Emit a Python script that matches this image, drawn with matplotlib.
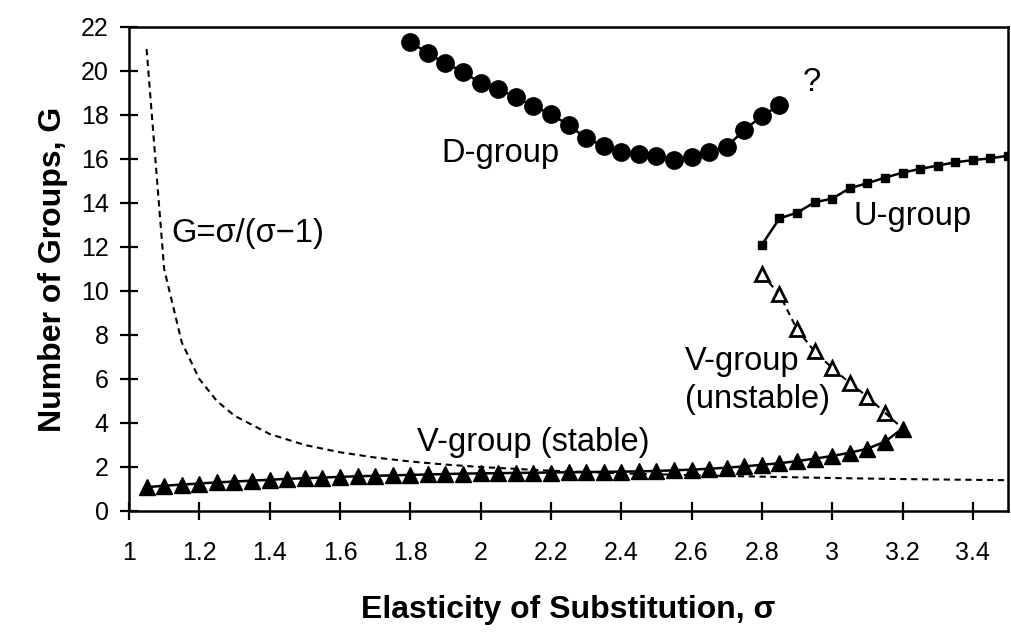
import matplotlib
matplotlib.use("Agg")
import matplotlib.pyplot as plt

plt.rcParams['font.family'] = ['Liberation Sans', 'DejaVu Sans']

# ---- data ----
curve_x = [1.05, 1.1, 1.15, 1.2, 1.25, 1.3, 1.4, 1.5, 1.6, 1.7, 1.8, 1.9, 2.0,
           2.2, 2.4, 2.6, 2.8, 3.0, 3.2, 3.5]
curve_y = [21.0, 11.0, 7.67, 6.0, 5.0, 4.33, 3.5, 3.0, 2.67, 2.43, 2.25, 2.11, 2.0,
           1.83, 1.71, 1.63, 1.56, 1.5, 1.45, 1.4]

vs_x = [1.05, 1.1, 1.15, 1.2, 1.25, 1.3, 1.35, 1.4, 1.45, 1.5, 1.55, 1.6, 1.65,
        1.7, 1.75, 1.8, 1.85, 1.9, 1.95, 2.0, 2.05, 2.1, 2.15, 2.2, 2.25, 2.3,
        2.35, 2.4, 2.45, 2.5, 2.55, 2.6, 2.65, 2.7, 2.75, 2.8, 2.85, 2.9, 2.95,
        3.0, 3.05, 3.1, 3.15, 3.2]
vs_y = [1.08, 1.15, 1.2, 1.25, 1.3, 1.34, 1.38, 1.42, 1.46, 1.49, 1.52, 1.55,
        1.58, 1.6, 1.62, 1.64, 1.66, 1.68, 1.7, 1.71, 1.72, 1.73, 1.74, 1.75,
        1.76, 1.77, 1.78, 1.79, 1.8, 1.82, 1.85, 1.88, 1.92, 1.97, 2.03, 2.1,
        2.17, 2.27, 2.38, 2.5, 2.65, 2.83, 3.15, 3.75]

vu_x = [2.8, 2.85, 2.9, 2.95, 3.0, 3.05, 3.1, 3.15, 3.2]
vu_y = [10.75, 9.85, 8.25, 7.25, 6.5, 5.82, 5.2, 4.47, 3.75]

u_x = [2.8, 2.85, 2.9, 2.95, 3.0, 3.05, 3.1, 3.15, 3.2, 3.25, 3.3, 3.35, 3.4, 3.45, 3.5]
u_y = [12.1, 13.3, 13.56, 14.03, 14.2, 14.67, 14.9, 15.15, 15.38, 15.55, 15.7,
       15.85, 15.95, 16.03, 16.15]

d_x = [1.8, 1.85, 1.9, 1.95, 2.0, 2.05, 2.1, 2.15, 2.2, 2.25, 2.3, 2.35, 2.4,
       2.45, 2.5, 2.55, 2.6, 2.65, 2.7, 2.75, 2.8, 2.85]
d_y = [21.33, 20.8, 20.35, 19.97, 19.44, 19.18, 18.8, 18.41, 18.03, 17.55, 16.94,
       16.6, 16.33, 16.23, 16.14, 15.95, 16.08, 16.33, 16.56, 17.32, 17.95, 18.45]

x_ticks = [1.0, 1.2, 1.4, 1.6, 1.8, 2.0, 2.2, 2.4, 2.6, 2.8, 3.0, 3.2, 3.4]
x_tick_labels = ['1', '1.2', '1.4', '1.6', '1.8', '2', '2.2', '2.4', '2.6',
                 '2.8', '3', '3.2', '3.4']
y_ticks = [0, 2, 4, 6, 8, 10, 12, 14, 16, 18, 20, 22]

# ---- figure ----
fig = plt.figure(figsize=(10.11, 6.35), dpi=100)
ax = fig.add_axes([129 / 1011, 1 - 511 / 635, 879 / 1011, 484 / 635])

ax.plot(curve_x, curve_y, color='black', lw=1.5, dashes=(3.0, 2.2), zorder=1)
ax.plot(vs_x, vs_y, color='black', lw=1.8, marker='^', ms=11.5, mfc='black',
        mec='black', zorder=3)
ax.plot(vu_x[:-1], vu_y[:-1], color='black', lw=1.5, dashes=(3.0, 2.2),
        marker='^', ms=10, mfc='white', mec='black', mew=2, zorder=2)
ax.plot(vu_x[-2:], vu_y[-2:], color='black', lw=1.5, dashes=(3.0, 2.2), zorder=2)
ax.plot(u_x, u_y, color='black', lw=1.8, marker='s', ms=5.5, mfc='black',
        mec='black', zorder=3)
ax.plot(d_x, d_y, color='black', lw=1.8, marker='o', ms=12.5, mfc='black',
        mec='black', zorder=3)

fs = 23.5
ax.text(1.889, 15.88, 'D-group', fontsize=fs, va='baseline', ha='left')
ax.text(3.06, 13.0, 'U-group', fontsize=fs, va='baseline', ha='left')
ax.text(1.121, 12.24, 'G=σ/(σ\u22121)', fontsize=fs, va='baseline', ha='left')
ax.text(1.818, 2.74, 'V-group (stable)', fontsize=fs, va='baseline', ha='left')
ax.text(2.582, 6.41, 'V-group', fontsize=fs, va='baseline', ha='left')
ax.text(2.582, 4.68, '(unstable)', fontsize=fs, va='baseline', ha='left')
ax.text(2.917, 19.1, '?', fontsize=fs, va='baseline', ha='left')

ax.set_xlim(1, 3.5)
ax.set_ylim(0, 22)
ax.set_xticks(x_ticks)
ax.set_xticklabels(x_tick_labels)
ax.set_yticks(y_ticks)

ax.tick_params(axis='both', direction='inout', length=13, width=1.6,
               labelsize=18, color='black')
ax.tick_params(axis='x', pad=15)
ax.tick_params(axis='y', pad=8)
for s in ax.spines.values():
    s.set_linewidth(1.8)
    s.set_color('black')

ax.set_xlabel('Elasticity of Substitution, σ', fontsize=23, fontweight='bold')
ax.xaxis.label.set_va('baseline')
ax.xaxis.set_label_coords(0.5, -0.221)
ax.set_ylabel('Number of Groups, G', fontsize=23, fontweight='bold')
ax.yaxis.label.set_va('center')
ax.yaxis.set_label_coords(-0.087, 0.5)

fig.savefig('out.png', dpi=100)
